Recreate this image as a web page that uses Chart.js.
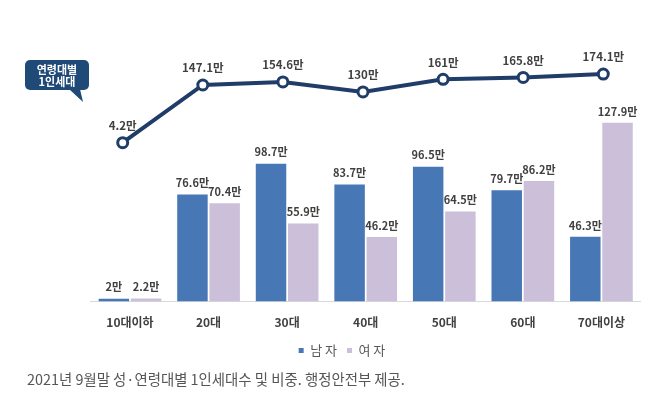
<!DOCTYPE html>
<html>
<head>
<meta charset="utf-8">
<script src="https://cdn.jsdelivr.net/npm/chart.js@4"></script>
<style>
  html, body { margin:0; padding:0; background:#fff; }
  #wrap { position:relative; width:660px; height:398px; overflow:hidden; }
  canvas { position:absolute; left:0; top:0; }
  #callout { position:absolute; left:25px; top:60px; width:64px; height:30px; background:#1f4a78; border-radius:5px;
    color:#fff; font-family:"Noto Sans CJK KR", sans-serif; font-weight:bold; font-size:11px; line-height:12px;
    text-align:center; display:flex; flex-direction:column; justify-content:center; }
  #tail { position:absolute; left:68px; top:89px; width:16px; height:14px; background:#1f4a78;
    clip-path: polygon(1px 0, 12px 0, 15px 13px); }
  #caption { position:absolute; left:27px; top:368px; font-family:"Noto Sans CJK KR", sans-serif; font-size:14.4px;
    color:#555; white-space:nowrap; }
</style>
</head>
<body>
<div id="wrap">
  <canvas id="bars" width="660" height="398"></canvas>
  <canvas id="line" width="660" height="398"></canvas>
  <div id="tail"></div>
  <div id="callout"><span>연령대별</span><span>1인세대</span></div>
  <div id="caption">2021년 9월말 성·연령대별 1인세대수 및 비중. 행정안전부 제공.</div>
</div>
<script>
const categories = ['10대이하', '20대', '30대', '40대', '50대', '60대', '70대이상'];
const maleValues = [2, 76.6, 98.7, 83.7, 96.5, 79.7, 46.3];
const femaleValues = [2.2, 70.4, 55.9, 46.2, 64.5, 86.2, 127.9];
const totalValues = [4.2, 147.1, 154.6, 130, 161, 165.8, 174.1];
const seriesNames = ['남 자', '여 자', '연령대별 1인세대'];
const unit = '만';

const labelPlugin = {
  id: 'valueLabels',
  afterDatasetsDraw(chart) {
    const ctx = chart.ctx;
    ctx.save();
    ctx.fillStyle = '#404040';
    ctx.textAlign = 'center';
    ctx.textBaseline = 'middle';
    chart.data.datasets.forEach((ds, di) => {
      const meta = chart.getDatasetMeta(di);
      const isLine = ds.type === 'line';
      ctx.font = 'bold ' + (isLine ? '11.5px' : '11px') + ' "Noto Sans CJK KR", sans-serif';
      meta.data.forEach((el, i) => {
        const raw = isLine ? ds.data[i].y : ds.data[i];
        ctx.fillText(raw + unit, el.x, el.y - (isLine ? 17 : 11.5));
      });
    });
    ctx.restore();
  }
};

// Bars (with category axis and legend)
new Chart(document.getElementById('bars'), {
  type: 'bar',
  data: {
    labels: categories,
    datasets: [
      { type:'bar', label: seriesNames[0], data: maleValues, backgroundColor:'#4877b6',
        categoryPercentage:0.82, barPercentage:0.946 },
      { type:'bar', label: seriesNames[1], data: femaleValues, backgroundColor:'#cbbfda',
        categoryPercentage:0.82, barPercentage:0.946 }
    ]
  },
  options: {
    responsive:false,
    devicePixelRatio:1,
    animation:false,
    layout: { padding: { left:43.3, right:19.3, top:30, bottom:31 } },
    scales: {
      x: {
        type:'category', position:'bottom',
        grid: { display:false, drawTicks:false },
        border: { display:true, color:'#d9d9d9', width:1 },
        ticks: { color:'#404040', padding:14, font: { family:'"Noto Sans CJK KR", sans-serif', size:12, weight:'bold' } },
        afterFit(scale) { scale.height = 32.5; }
      },
      y: {
        position:'left', min:0, max:194.4,
        grid: { display:false, drawTicks:false }, border: { display:false },
        ticks: { display:false },
        afterFit(scale) { scale.width = 47.4; }
      }
    },
    plugins: {
      legend: {
        display:true, position:'bottom',
        labels: {
          boxWidth:5, boxHeight:5, padding:10, color:'#595959',
          font: { family:'"Noto Sans CJK KR", sans-serif', size:13 }
        }
      },
      tooltip: { enabled:false }
    }
  },
  plugins:[labelPlugin]
});

// Line (overlaid chart with its own scales, same plot area)
new Chart(document.getElementById('line'), {
  type: 'line',
  data: {
    datasets: [
      { type:'line', label: seriesNames[2], data: totalValues.map((v, i) => ({x:i, y:v})),
        borderColor:'#1f3d68', borderWidth:4, pointRadius:5, pointBorderWidth:3, pointBackgroundColor:'#fff',
        pointBorderColor:'#1f3d68', tension:0, fill:false }
    ]
  },
  options: {
    responsive:false,
    devicePixelRatio:1,
    animation:false,
    layout: { padding: { left:90.7, right:19.3, top:30, bottom:97 } },
    scales: {
      x: { type:'linear', display:false, offset:false, min:-0.3995, max:6.467 },
      y: { type:'linear', display:false, min:-387.6, max:283.2 }
    },
    plugins: { legend: { display:false }, tooltip: { enabled:false } }
  },
  plugins:[labelPlugin]
});
</script>
</body>
</html>
